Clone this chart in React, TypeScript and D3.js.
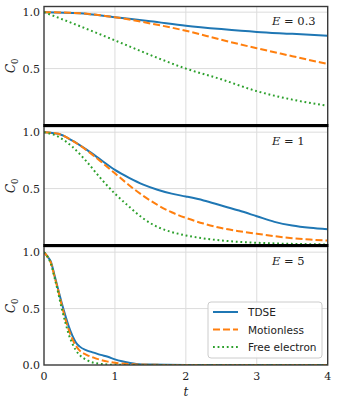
import React from "react";
import * as d3 from "d3";

// values (C_0 against t)
const panelLabels = ["0.3", "1", "5"];
const seriesNames = ["TDSE", "Motionless", "Free electron"];
const seriesColors = ["#1f77b4", "#ff7f0e", "#2ca02c"];
const xTicks = [0, 1, 2, 3, 4];

const tWeak = [0, 0.5, 1, 1.5, 2, 2.5, 3, 3.5, 4];
const tdseWeak = [1.0, 0.99, 0.955, 0.92, 0.88, 0.85, 0.825, 0.808, 0.79];
const motionlessWeak = [1.0, 0.99, 0.955, 0.9, 0.835, 0.755, 0.68, 0.61, 0.54];
const freeWeak = [1.0, 0.877, 0.75, 0.62, 0.5, 0.405, 0.3, 0.225, 0.17];

const tMid = [0, 0.2, 0.4, 0.6, 0.8, 1.0, 1.2, 1.4, 1.6, 1.8, 2.0, 2.25, 2.5, 2.75, 3, 3.25, 3.5, 3.75, 4];
const tdseMid = [1, 0.985, 0.925, 0.845, 0.755, 0.665, 0.595, 0.535, 0.49, 0.455, 0.43, 0.395, 0.35, 0.305, 0.255, 0.205, 0.172, 0.152, 0.14];
const motionlessMid = [1, 0.985, 0.925, 0.84, 0.74, 0.635, 0.53, 0.435, 0.355, 0.29, 0.24, 0.19, 0.15, 0.122, 0.1, 0.078, 0.06, 0.048, 0.04];
const freeMid = [1, 0.96, 0.87, 0.74, 0.59, 0.455, 0.34, 0.235, 0.16, 0.115, 0.085, 0.058, 0.04, 0.028, 0.02, 0.014, 0.01, 0.007, 0.005];

const tStrong = [0, 0.05, 0.1, 0.15, 0.2, 0.25, 0.3, 0.35, 0.4, 0.45, 0.5, 0.6, 0.7, 0.8, 0.9, 1.0, 1.1, 1.2, 1.3, 1.5, 2, 3, 4];
const tdseStrong = [1.0, 0.96, 0.91, 0.79, 0.67, 0.55, 0.44, 0.34, 0.26, 0.2, 0.165, 0.13, 0.11, 0.09, 0.073, 0.05, 0.033, 0.02, 0.01, 0.004, 0.001, 0, 0];
const motionlessStrong = [1.0, 0.96, 0.9, 0.78, 0.66, 0.53, 0.41, 0.31, 0.23, 0.17, 0.13, 0.09, 0.065, 0.045, 0.03, 0.02, 0.013, 0.008, 0.005, 0.002, 0, 0, 0];
const freeStrong = [1.0, 0.96, 0.89, 0.77, 0.64, 0.5, 0.38, 0.27, 0.19, 0.13, 0.09, 0.045, 0.02, 0.01, 0.004, 0.002, 0.001, 0, 0, 0, 0, 0, 0];

const panels = [
  { t: tWeak, series: [tdseWeak, motionlessWeak, freeWeak], yTicks: [0.5, 1.0] },
  { t: tMid, series: [tdseMid, motionlessMid, freeMid], yTicks: [0.5, 1.0] },
  { t: tStrong, series: [tdseStrong, motionlessStrong, freeStrong], yTicks: [0, 0.5, 1.0] },
];

const dashes = [null, "7,3", "1.8,2.8"];
const serif = "'DejaVu Serif', serif";
const sans = "'DejaVu Sans', sans-serif";

export default function App() {
  const width = 337, height = 405;
  const left = 44, right = 327.7;
  const x = d3.scaleLinear().domain([0, 4]).range([left, right]);

  return (
    <svg width={width} height={height} style={{ position: "absolute", left: 0, top: 0, background: "#fff" }}>
      <defs>
        {panels.map((p, i) => (
          <clipPath id={"clip" + i} key={i}>
            <rect x={left} y={6.5 + 120 * i} width={right - left} height={118.5} />
          </clipPath>
        ))}
      </defs>
      {panels.map((p, i) => {
        const top = 6.5 + 120 * i, bottom = 125 + 120 * i;
        const y = d3.scaleLinear().domain([0, 1.05]).range([bottom, top]);
        return (
          <g key={i}>
            {/* grid */}
            {xTicks.slice(1, 4).map(t => (
              <line key={t} x1={x(t)} x2={x(t)} y1={top} y2={bottom} stroke="#dcdcdc" strokeWidth={1} />
            ))}
            {[0.5, 1.0].map(v => (
              <line key={v} x1={left} x2={right} y1={y(v)} y2={y(v)} stroke="#dcdcdc" strokeWidth={1} />
            ))}
            {/* curves */}
            <g clipPath={`url(#clip${i})`}>
              {p.series.map((vals, k) => {
                const line = d3.line<number>()
                  .x((_, j) => x(p.t[j]))
                  .y(d => y(d))
                  .curve(d3.curveMonotoneX);
                return (
                  <path key={k} d={line(vals) || ""} fill="none" stroke={seriesColors[k]}
                    strokeWidth={2} strokeDasharray={dashes[k] || undefined} />
                );
              })}
            </g>
            {/* frame */}
            <rect x={left} y={top} width={right - left} height={bottom - top} fill="none" stroke="#3a3a3a" strokeWidth={1.4} />
            {/* y ticks */}
            {p.yTicks.map(v => (
              <text key={v} x={40} y={y(v) + 4} textAnchor="end" fontFamily={serif} fontSize={11} fill="#222">
                {v.toFixed(1)}
              </text>
            ))}
            {/* y label */}
            <text transform={`translate(15,${(top + bottom) / 2}) rotate(-90)`} textAnchor="middle"
              fontFamily={serif} fontSize={12} fill="#222">
              <tspan fontStyle="italic">C</tspan>
              <tspan fontSize={8.5} dy={2.5}>0</tspan>
            </text>
            {/* annotation */}
            <text x={272} y={top + 18.5} fontFamily={serif} fontSize={11.5} fill="#222">
              <tspan fontStyle="italic">E</tspan>
              <tspan> = {panelLabels[i]}</tspan>
            </text>
          </g>
        );
      })}
      {/* separators between panels */}
      {[1, 2].map(i => (
        <line key={i} x1={left - 0.7} x2={right + 0.7} y1={125.6 + 120 * (i - 1)} y2={125.6 + 120 * (i - 1)}
          stroke="#000" strokeWidth={3} />
      ))}
      {/* x ticks */}
      {xTicks.map(t => (
        <text key={t} x={x(t)} y={380} textAnchor="middle" fontFamily={serif} fontSize={11} fill="#222">{t}</text>
      ))}
      <text x={x(2)} y={396} textAnchor="middle" fontFamily={serif} fontSize={12} fontStyle="italic" fill="#222">t</text>
      {/* legend */}
      <g>
        <rect x={208} y={302} width={114} height={56} rx={3} fill="#fff" fillOpacity={0.85} stroke="#cccccc" strokeWidth={1} />
        {seriesNames.map((name, k) => {
          const cy = 312 + 17.5 * k;
          return (
            <g key={name}>
              <line x1={213} x2={238} y1={cy} y2={cy} stroke={seriesColors[k]} strokeWidth={2}
                strokeDasharray={dashes[k] || undefined} />
              <text x={248} y={cy + 4} fontFamily={sans} fontSize={10.5} fill="#222">{name}</text>
            </g>
          );
        })}
      </g>
    </svg>
  );
}
